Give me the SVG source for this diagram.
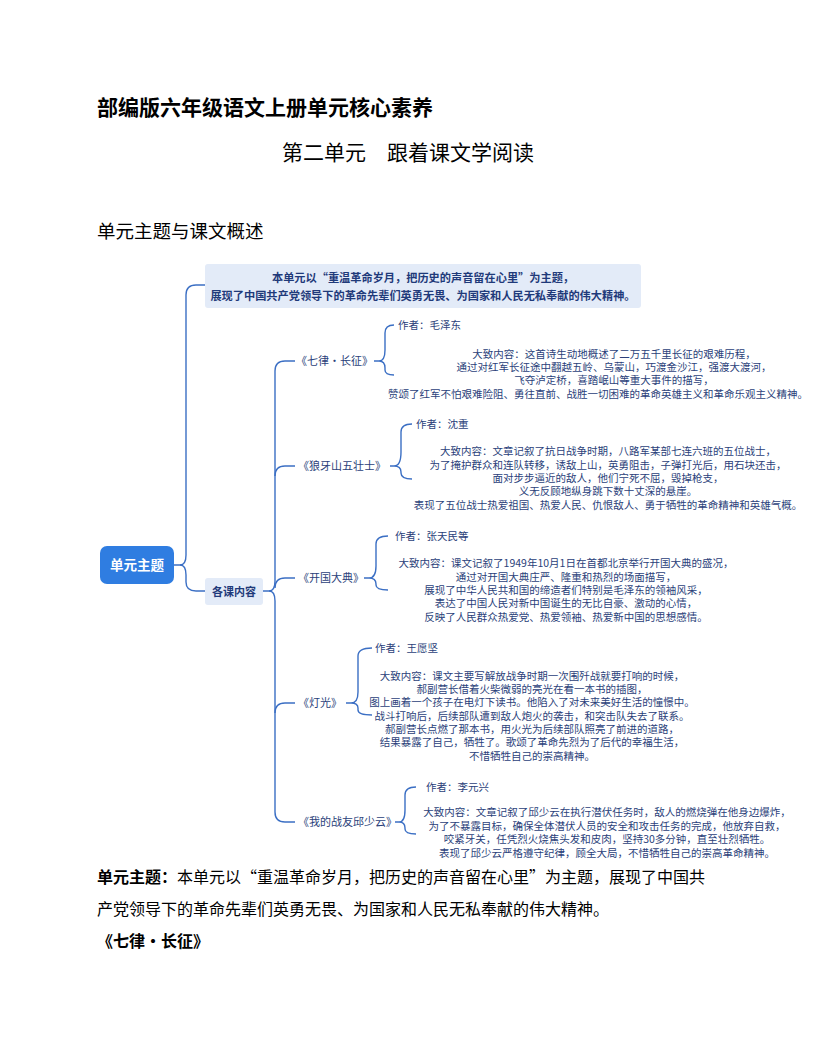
<svg xmlns="http://www.w3.org/2000/svg" width="816" height="1056" viewBox="0 0 816 1056">
<style>
text{font-family:"Noto Sans CJK SC","Liberation Sans",sans-serif;}
.h{font-size:21px;font-weight:bold;fill:#000}
.p{font-size:16px;fill:#000}
.t{font-size:11px;fill:#2b3f7a}
.c{font-size:10.5px;fill:#2b3f7a;text-anchor:middle}
.a{font-size:10.5px;fill:#2b3f7a}
.l{fill:none;stroke:#3b6fc4;stroke-width:1.4}
</style>
<rect width="816" height="1056" fill="#fff"/>
<text class="h" x="97" y="115">部编版六年级语文上册单元核心素养</text>
<text class="h" x="282" y="160" style="font-weight:normal">第二单元　跟着课文学阅读</text>
<text x="97" y="238" style="font-size:18.5px">单元主题与课文概述</text>
<g id="connectors">
<path class="l" d="M174,565 H180 Q186,565 186,555 V295 Q186,285 196,285 H205"/>
<path class="l" d="M180,565 Q186,565 186,575 V582 Q186,591 196,591 H205"/>
<path class="l" d="M263,591 H269 Q275,591 275,581 V371 Q275,361 285,361 H295"/>
<path class="l" d="M269,591 Q275,591 275,601 V812 Q275,822 285,822 H295"/>
<path class="l" d="M275,476 Q275,466 285,466 H295 M275,588 Q275,578 285,578 H295 M275,713 Q275,703 285,703 H295"/>
<path class="l" d="M374,361 H379 Q385,361 385,350 V333 Q385,325 394,325 M379,361 Q385,361 385,368 V370 Q385,375 394,375"/>
<path class="l" d="M390,466 H394 Q401,466 401,452 V432 Q401,424 412,424 M394,466 Q401,466 401,472 V473 Q401,479 412,479"/>
<path class="l" d="M364,578 H369 Q376,578 376,566 V544 Q376,536 388,536 M369,578 Q376,578 376,584 V585 Q376,590 388,590"/>
<path class="l" d="M346,703 H351 Q358,703 358,692 V656 Q358,648 372,648 M351,703 Q358,703 358,708 V710 Q358,715 372,715"/>
<path class="l" d="M395,822 H399 Q405,822 405,810 V795 Q405,787 416,787 M399,822 Q405,822 405,828 V829 Q405,834 416,834"/>
</g>
<g id="root"><rect x="100" y="546" width="74" height="38" rx="7" fill="#2f7de1"/><text x="137" y="570" style="font-size:13.5px;font-weight:bold;fill:#fff;text-anchor:middle">单元主题</text></g>
<g id="theme"><rect x="205" y="264" width="436" height="44" rx="3" fill="#e3ebf8"/>
<text x="423" y="282" style="font-size:11.2px;font-weight:bold;fill:#1f3a7a;text-anchor:middle">本单元以“重温革命岁月，把历史的声音留在心里”为主题，</text>
<text x="423" y="300" style="font-size:11.2px;font-weight:bold;fill:#1f3a7a;text-anchor:middle">展现了中国共产党领导下的革命先辈们英勇无畏、为国家和人民无私奉献的伟大精神。</text></g>
<g id="lessons"><rect x="205" y="578" width="58" height="27" rx="3" fill="#e3ebf8"/><text x="234" y="596" style="font-size:11px;font-weight:bold;fill:#1f3a7a;text-anchor:middle">各课内容</text></g>
<g id="l1"><text class="t" x="296" y="365">《七律·长征》</text>
<text class="a" x="398" y="329">作者：毛泽东</text>
<text class="c" x="614" y="358">大致内容：这首诗生动地概述了二万五千里长征的艰难历程，</text>
<text class="c" x="614" y="371">通过对红军长征途中翻越五岭、乌蒙山，巧渡金沙江，强渡大渡河，</text>
<text class="c" x="614" y="384">飞夺泸定桥，喜踏岷山等重大事件的描写，</text>
<text class="c" x="598" y="398">赞颂了红军不怕艰难险阻、勇往直前、战胜一切困难的革命英雄主义和革命乐观主义精神。</text></g>
<g id="l2"><text class="t" x="298" y="470">《狼牙山五壮士》</text>
<text class="a" x="416" y="428">作者：沈重</text>
<text class="c" x="608" y="455">大致内容：文章记叙了抗日战争时期，八路军某部七连六班的五位战士，</text>
<text class="c" x="608" y="469">为了掩护群众和连队转移，诱敌上山，英勇阻击，子弹打光后，用石块还击，</text>
<text class="c" x="608" y="482">面对步步逼近的敌人，他们宁死不屈，毁掉枪支，</text>
<text class="c" x="608" y="495">义无反顾地纵身跳下数十丈深的悬崖。</text>
<text class="c" x="608" y="509">表现了五位战士热爱祖国、热爱人民、仇恨敌人、勇于牺牲的革命精神和英雄气概。</text></g>
<g id="l3"><text class="t" x="298" y="582">《开国大典》</text>
<text class="a" x="395" y="540">作者：张天民等</text>
<text class="c" x="566" y="567">大致内容：课文记叙了1949年10月1日在首都北京举行开国大典的盛况，</text>
<text class="c" x="566" y="581">通过对开国大典庄严、隆重和热烈的场面描写，</text>
<text class="c" x="566" y="594">展现了中华人民共和国的缔造者们特别是毛泽东的领袖风采，</text>
<text class="c" x="566" y="607">表达了中国人民对新中国诞生的无比自豪、激动的心情，</text>
<text class="c" x="566" y="621">反映了人民群众热爱党、热爱领袖、热爱新中国的思想感情。</text></g>
<g id="l4"><text class="t" x="298" y="707">《灯光》</text>
<text class="a" x="375" y="652">作者：王愿坚</text>
<text class="c" x="532" y="680">大致内容：课文主要写解放战争时期一次围歼战就要打响的时候，</text>
<text class="c" x="532" y="693">郝副营长借着火柴微弱的亮光在看一本书的插图，</text>
<text class="c" x="532" y="706">图上画着一个孩子在电灯下读书。他陷入了对未来美好生活的憧憬中。</text>
<text class="c" x="532" y="720">战斗打响后，后续部队遭到敌人炮火的袭击，和突击队失去了联系。</text>
<text class="c" x="532" y="733">郝副营长点燃了那本书，用火光为后续部队照亮了前进的道路，</text>
<text class="c" x="532" y="746">结果暴露了自己，牺牲了。歌颂了革命先烈为了后代的幸福生活，</text>
<text class="c" x="532" y="760">不惜牺牲自己的崇高精神。</text></g>
<g id="l5"><text class="t" x="298" y="826">《我的战友邱少云》</text>
<text class="a" x="426" y="791">作者：李元兴</text>
<text class="c" x="607" y="816">大致内容：文章记叙了邱少云在执行潜伏任务时，敌人的燃烧弹在他身边爆炸，</text>
<text class="c" x="607" y="830">为了不暴露目标，确保全体潜伏人员的安全和攻击任务的完成，他放弃自救，</text>
<text class="c" x="607" y="843">咬紧牙关，任凭烈火烧焦头发和皮肉，坚持30多分钟，直至壮烈牺牲。</text>
<text class="c" x="607" y="857">表现了邱少云严格遵守纪律，顾全大局，不惜牺牲自己的崇高革命精神。</text></g>
<text class="p" x="97" y="883"><tspan font-weight="bold">单元主题：</tspan>本单元以“重温革命岁月，把历史的声音留在心里”为主题，展现了中国共</text>
<text class="p" x="97" y="915">产党领导下的革命先辈们英勇无畏、为国家和人民无私奉献的伟大精神。</text>
<text class="p" x="97" y="947" font-weight="bold">《七律·长征》</text>
</svg>
